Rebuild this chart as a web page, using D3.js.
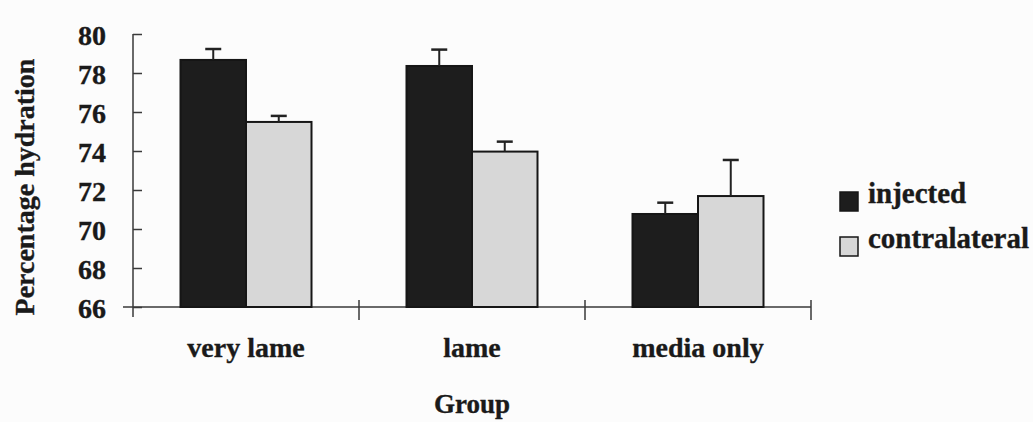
<!DOCTYPE html>
<html>
<head>
<meta charset="utf-8">
<script src="https://cdn.jsdelivr.net/npm/d3@7"></script>
<style>
    body { margin: 0; background: #fcfcfc; }
    svg { display: block; }
    .lbl { font-family: "Liberation Serif", "Times New Roman", serif; font-weight: bold; fill: #1a1a1a; stroke: #1a1a1a; stroke-width: 0.35px; }
</style>
</head>
<body>
<svg id="chart" width="1033" height="422"></svg>
<script>
var groups = ['very lame', 'lame', 'media only'];
var seriesNames = ['injected', 'contralateral'];
var injected = [78.67, 78.36, 70.77];
var injectedErr = [0.56, 0.84, 0.58];
var contralateral = [75.49, 73.97, 71.69];
var contralateralErr = [0.31, 0.51, 1.85];
var yTicks = [66, 68, 70, 72, 74, 76, 78, 80];

var colours = { injected: '#1d1d1d', contralateral: '#d7d7d7' };

var svg = d3.select('#chart');

var y = d3.scaleLinear().domain([66, 80]).range([307, 34]);
var x0 = d3.scaleBand().domain(groups).range([133, 811]).paddingInner(0).paddingOuter(0);
var x1 = d3.scaleBand().domain(seriesNames).range([0, x0.bandwidth()]).paddingInner(0).paddingOuter(0.725);

//Turn the arrays into one row per bar
var rows = [];
groups.forEach(function(g, i) {
    rows.push({ group: g, series: 'injected', value: injected[i], err: injectedErr[i] });
    rows.push({ group: g, series: 'contralateral', value: contralateral[i], err: contralateralErr[i] });
});

var axisColour = '#3a3a3a';

//Y axis: ticks cross the line on both sides
var yAxis = svg.append('g')
    .attr('transform', 'translate(133,0)')
    .call(d3.axisLeft(y).tickValues(yTicks).tickSize(10).tickSizeOuter(0).tickFormat(d3.format('d')));
yAxis.select('.domain').remove();
yAxis.selectAll('.tick line').attr('x2', 9).attr('stroke', axisColour).attr('stroke-width', 1.5);
yAxis.selectAll('.tick text')
    .attr('class', 'lbl')
    .attr('x', -27)
    .attr('dy', '0.36em')
    .style('font-size', '28px');
svg.append('line')
    .attr('x1', 133).attr('x2', 133)
    .attr('y1', y(80)).attr('y2', y(66) + 10)
    .attr('stroke', axisColour).attr('stroke-width', 1.5);

//X axis with group separators
svg.append('line')
    .attr('x1', 123).attr('x2', x0.range()[1])
    .attr('y1', y(66)).attr('y2', y(66))
    .attr('stroke', axisColour).attr('stroke-width', 1.5);
svg.selectAll('.sep')
    .data(groups.slice(1).concat(['end']))
    .enter().append('line')
    .attr('class', 'sep')
    .attr('x1', function(d) { return d === 'end' ? x0.range()[1] : x0(d); })
    .attr('x2', function(d) { return d === 'end' ? x0.range()[1] : x0(d); })
    .attr('y1', y(66) - 7).attr('y2', y(66) + 13)
    .attr('stroke', axisColour).attr('stroke-width', 1.5);

//Bars
var bars = svg.append('g').selectAll('g')
    .data(rows)
    .enter().append('g')
    .attr('transform', function(d) { return 'translate(' + (x0(d.group) + x1(d.series)) + ',0)'; });

bars.append('rect')
    .attr('x', 0)
    .attr('y', function(d) { return y(d.value); })
    .attr('width', x1.bandwidth())
    .attr('height', function(d) { return y(66) - y(d.value); })
    .attr('fill', function(d) { return colours[d.series]; })
    .attr('stroke', '#161616')
    .attr('stroke-width', 2);

//Upper error bars only
bars.append('line')
    .attr('x1', x1.bandwidth() / 2).attr('x2', x1.bandwidth() / 2)
    .attr('y1', function(d) { return y(d.value); })
    .attr('y2', function(d) { return y(d.value + d.err); })
    .attr('stroke', '#222').attr('stroke-width', 2);
bars.append('line')
    .attr('x1', x1.bandwidth() / 2 - 8).attr('x2', x1.bandwidth() / 2 + 8)
    .attr('y1', function(d) { return y(d.value + d.err); })
    .attr('y2', function(d) { return y(d.value + d.err); })
    .attr('stroke', '#222').attr('stroke-width', 2.5);

//Category labels
svg.selectAll('.cat')
    .data(groups)
    .enter().append('text')
    .attr('class', 'lbl')
    .attr('x', function(d) { return x0(d) + x0.bandwidth() / 2; })
    .attr('y', 357)
    .attr('text-anchor', 'middle')
    .style('font-size', '28px')
    .text(function(d) { return d; });

//Axis titles
svg.append('text')
    .attr('class', 'lbl')
    .attr('x', (x0.range()[0] + x0.range()[1]) / 2)
    .attr('y', 413)
    .attr('text-anchor', 'middle')
    .style('font-size', '27px')
    .text('Group');

svg.append('text')
    .attr('class', 'lbl')
    .attr('transform', 'translate(34,187) rotate(-90)')
    .attr('text-anchor', 'middle')
    .style('font-size', '28px')
    .text('Percentage hydration');

//Legend
var legend = svg.append('g').selectAll('g')
    .data(seriesNames)
    .enter().append('g')
    .attr('transform', function(d, i) { return 'translate(840,' + (192 + i * 45) + ')'; });
legend.append('rect')
    .attr('width', 18).attr('height', 19)
    .attr('fill', function(d) { return colours[d]; })
    .attr('stroke', '#161616').attr('stroke-width', 1.5);
legend.append('text')
    .attr('class', 'lbl')
    .attr('x', 28)
    .attr('y', 11)
    .style('font-size', '29px')
    .text(function(d) { return d; });
</script>
</body>
</html>
